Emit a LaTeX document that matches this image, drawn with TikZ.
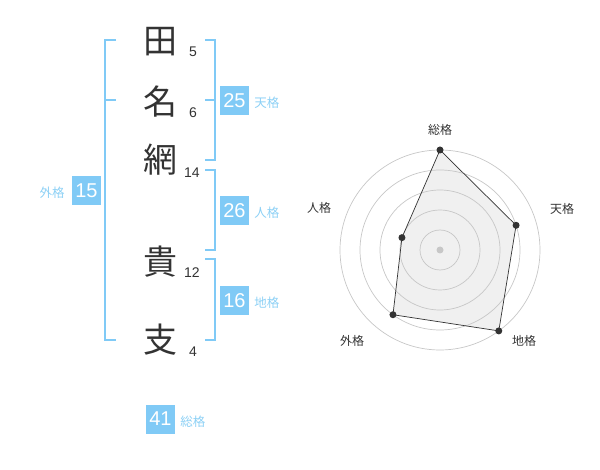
\documentclass[tikz,border=0pt]{standalone}
\usepackage{fontspec}
\setmainfont{Liberation Sans}
\newfontfamily\jpfont{Noto Sans CJK JP}
\usepackage{tikz}
\usetikzlibrary{positioning}
\definecolor{kakublue}{RGB}{128,202,246}
\definecolor{kakutext}{RGB}{140,208,245}
\definecolor{inkgray}{RGB}{51,51,51}
\newcommand{\brw}{2pt}
\newcommand{\ringc}{black!22}

\begin{document}
\begin{tikzpicture}[x=1pt, y=-1pt,
        kanji/.style={font=\jpfont\fontsize{34}{34}\selectfont, text=inkgray, inner sep=0pt},
        strokes/.style={font=\fontsize{14}{14}\selectfont, text=inkgray, inner sep=0pt},
        numbox/.style={fill=kakublue, text=white, minimum size=29pt, inner sep=0pt, font=\fontsize{20}{20}\selectfont},
        kaku/.style={font=\jpfont\fontsize{12.5}{12.5}\selectfont, text=kakutext, inner sep=0pt},
        bracket/.style={draw=kakublue, line width=\brw},
        radarlabel/.style={font=\jpfont\fontsize{12}{12}\selectfont, text=inkgray, inner sep=0pt},
        ring/.style={draw=\ringc, line width=0.7pt},
        dot/.style={circle, fill=inkgray, inner sep=0pt, minimum size=7pt}]
                %\draw[help lines] (0,0) grid (600,470);
                \useasboundingbox (0,0) rectangle (600,470);
                % name
                \node[kanji] (c1) at (160,42) {田};
                \node[kanji] (c2) at (160,102) {名};
                \node[kanji] (c3) at (160,160) {網};
                \node[kanji] (c4) at (160,262) {貴};
                \node[kanji] (c5) at (160,340) {支};
                \node[strokes] (n1) at (193,52) {5};
                \node[strokes] (n2) at (193,113) {6};
                \node[strokes] (n3) at (192,173) {14};
                \node[strokes] (n4) at (192,273) {12};
                \node[strokes] (n5) at (193,352) {4};
                % brackets
                \draw[bracket] (116,40) -- (105,40) -- (105,340) -- (116,340);
                \draw[bracket] (105,100) -- (116,100);
                \draw[bracket] (205,40) -- (215,40) -- (215,160) -- (205,160);
                \draw[bracket] (205,100) -- (215,100);
                \draw[bracket] (205,170) -- (215,170) -- (215,250) -- (205,250);
                \draw[bracket] (205,259) -- (215,259) -- (215,340) -- (205,340);
                % scores
                \node[numbox] (bten) at (234.5,100.5) {25};
                \node[numbox] (bjin) at (234.5,210.5) {26};
                \node[numbox] (bchi) at (234.5,300.5) {16};
                \node[numbox] (bgai) at (86.5,190.5) {15};
                \node[numbox] (bsou) at (160.5,419) {41};
                \node[kaku, right=5pt of bten, yshift=-2.5pt] (lten) {天格};
                \node[kaku, right=5pt of bjin, yshift=-2.5pt] (ljin) {人格};
                \node[kaku, right=5pt of bchi, yshift=-2.5pt] (lchi) {地格};
                \node[kaku, left=7pt of bgai, yshift=-2.5pt] (lgai) {外格};
                \node[kaku, right=5pt of bsou, yshift=-2.5pt] (lsou) {総格};
                % radar
                \begin{scope}[shift={(440,250)}, yscale=-1]
                \coordinate (rsou) at (90:100);
                \coordinate (rten) at (18:80);
                \coordinate (rchi) at (-54:100);
                \coordinate (rgai) at (-126:80);
                \coordinate (rjin) at (162:40);
                \fill[black!6] (rsou) -- (rten) -- (rchi) -- (rgai) -- (rjin) -- cycle;
                \foreach \r in {20,40,...,100}
                        \draw[ring] (0,0) circle[radius=\r];
                \draw[line width=0.7pt, inkgray] (rsou) -- (rten) -- (rchi) -- (rgai) -- (rjin) -- cycle;
                \foreach \p in {rsou,rten,rchi,rgai,rjin}
                        \node[dot] at (\p) {};
                \node[dot, fill=black!22] (rc) at (0,0) {};
                \node[radarlabel] (tsou) at (0,120) {総格};
                \node[radarlabel] (tten) at (122,41) {天格};
                \node[radarlabel] (tchi) at (84,-91) {地格};
                \node[radarlabel] (tgai) at (-88,-91) {外格};
                \node[radarlabel] (tjin) at (-121,42) {人格};
                \end{scope}
        \end{tikzpicture}
\end{document}
